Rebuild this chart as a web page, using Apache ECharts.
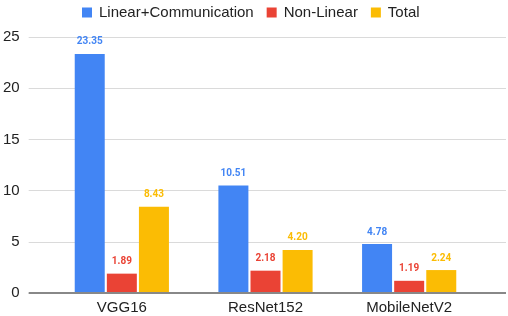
<!DOCTYPE html>
<html><head><meta charset="utf-8">
<script src="https://cdn.jsdelivr.net/npm/echarts@6/dist/echarts.min.js"></script>
<style>html,body{margin:0;padding:0;background:#fff}#c{width:508px;height:316px}</style>
</head><body><div id="c"></div>
<script>
const categories = ['VGG16', 'ResNet152', 'MobileNetV2'];
const linearComm = [23.35, 10.51, 4.78];
const nonLinear = [1.89, 2.18, 1.19];
const total = [8.43, 4.20, 2.24];
const seriesNames = ['Linear+Communication', 'Non-Linear', 'Total'];
const colors = ['#4285F4', '#EA4335', '#FBBC04'];

const F = 'Liberation Sans, Arial, sans-serif';
const chart = echarts.init(document.getElementById('c'));
function lbl(c){return {show:true,position:'top',distance:7,color:c,fontSize:10,fontFamily:'Roboto',fontWeight:'bold',formatter:p=>p.value.toFixed(2)};}
chart.setOption({
  animation:false,
  textStyle:{fontFamily:F},
  legend:{top:0,left:77,itemWidth:10,itemHeight:10,itemGap:13,icon:'rect',
    textStyle:{fontSize:15,color:'#222',fontFamily:F,padding:[0,0,0,2]},data:seriesNames},
  grid:[{left:26,right:2,top:37,bottom:23,containLabel:false},
        {left:50,right:27,top:37,bottom:23,containLabel:false}],
  xAxis:[
    {gridIndex:0,type:'value',min:0,max:1,show:false},
    {gridIndex:1,type:'category',data:categories,axisTick:{show:false},axisLine:{show:false},
     axisLabel:{fontSize:15,color:'#222',margin:7,fontFamily:F}}
  ],
  yAxis:[
    {gridIndex:0,type:'value',min:0,max:25,interval:5,axisLine:{show:false},axisTick:{show:false},
     axisLabel:{fontSize:15,color:'#222',margin:9,fontFamily:F},splitLine:{lineStyle:{color:'#dadada',width:1}}},
    {gridIndex:1,type:'value',min:0,max:25,interval:5,show:false,splitLine:{show:false}}
  ],
  series:[
    {type:'line',xAxisIndex:0,yAxisIndex:0,data:[[0,0],[1,0]],symbol:'none',silent:true,
     lineStyle:{color:'#888',width:2},legendHoverLink:false,name:'_axis'},
    {name:seriesNames[0],type:'bar',xAxisIndex:1,yAxisIndex:1,data:linearComm,barWidth:30,barGap:'7%',
     itemStyle:{color:colors[0]},label:lbl(colors[0])},
    {name:seriesNames[1],type:'bar',xAxisIndex:1,yAxisIndex:1,data:nonLinear,barWidth:30,barGap:'7%',
     itemStyle:{color:colors[1]},label:lbl(colors[1])},
    {name:seriesNames[2],type:'bar',xAxisIndex:1,yAxisIndex:1,data:total,barWidth:30,barGap:'7%',
     itemStyle:{color:colors[2]},label:lbl(colors[2])}
  ]
});
</script></body></html>
